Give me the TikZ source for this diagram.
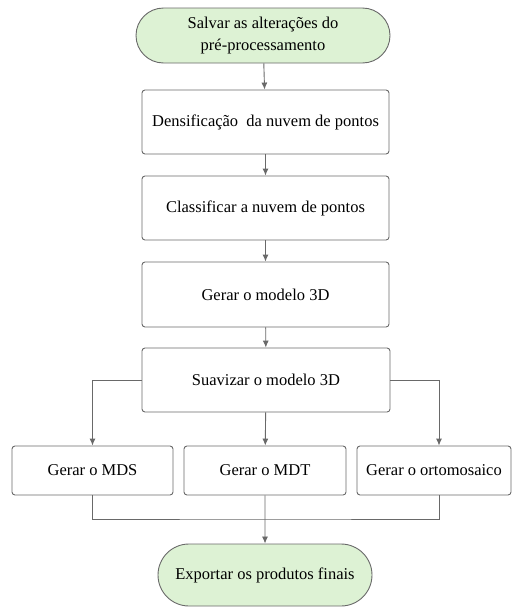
\documentclass[tikz,border=0pt]{standalone}
\usepackage{fontspec}
\setmainfont{Liberation Serif}
\usepackage{tikz}
\usetikzlibrary{arrows.meta}
\usetikzlibrary{shapes.misc, positioning}
\definecolor{termgreen}{RGB}{221,242,212}
\definecolor{linegray}{RGB}{105,105,105}
\tikzstyle{term} = [rounded rectangle, 
rounded rectangle arc length=180, 
align=center, inner sep=0pt, 
draw=linegray, fill=termgreen, line width=0.9pt]
\tikzstyle{proc} = [rectangle, rounded corners=3pt, 
text centered, inner sep=0pt, 
draw=linegray, line width=0.9pt]
\tikzstyle{arrow} =[-{Latex[length=7pt,width=6pt]}, linegray, line width=0.9pt]
\tikzstyle{link} =[linegray, line width=0.9pt]

\begin{document}
\begin{tikzpicture}[x=1pt, y=-1pt,
		font=\fontsize{16.5}{22}\selectfont]
		% sistema em pixels, y para baixo
		\useasboundingbox (0,0) rectangle (517,608);
		
		% ---- 1. Etapas principais ----
		\node[term, minimum width=254pt, minimum height=55pt] (salvar) at (263,35.5)
		{Salvar as alterações do\\pré-processamento};
		\node[proc, minimum width=247pt, minimum height=64pt] (densif) at (265.5,122)
		{Densificação\ \ da nuvem de pontos};
		\node[proc, minimum width=247pt, minimum height=64pt] (classif) at (265.5,208)
		{Classificar a nuvem de pontos};
		\node[proc, minimum width=247pt, minimum height=65pt] (modelo) at (265.5,294.5)
		{Gerar o modelo 3D};
		\node[proc, minimum width=248pt, minimum height=64pt] (suav) at (266,380)
		{Suavizar o modelo 3D};
		
		% ---- 2. Produtos ----
		\node[proc, minimum width=161pt, minimum height=49pt] (mds) at (92.5,470.5)
		{Gerar o MDS};
		\node[proc, minimum width=162pt, minimum height=49pt] (mdt) at (265,470.5)
		{Gerar o MDT};
		\node[proc, minimum width=154pt, minimum height=49pt] (orto) at (434,470.5)
		{Gerar o ortomosaico};
		
		% ---- 3. Fim ----
		\node[term, minimum width=214pt, minimum height=62pt] (exportar) at (265,575)
		{Exportar os produtos finais};
		
		% ---- 4. Ligações ----
		\draw[arrow] (salvar) -- (densif);
		\draw[arrow] (densif) -- (classif);
		\draw[arrow] (classif) -- (modelo);
		\draw[arrow] (modelo) -- (suav);
		
		\draw[arrow] (suav.west) -| (mds.north);
		\draw[arrow] (suav) -- (mdt);
		\draw[arrow] (suav.east) -| ([xshift=5pt]orto.north);
		
		% junção dos produtos
		\coordinate (juncao) at (265,519);
		\draw[link] (mds.south) |- (juncao) -| ([xshift=5pt]orto.south);
		\draw[arrow] (mdt) -- (exportar);
		
	\end{tikzpicture}
\end{document}
